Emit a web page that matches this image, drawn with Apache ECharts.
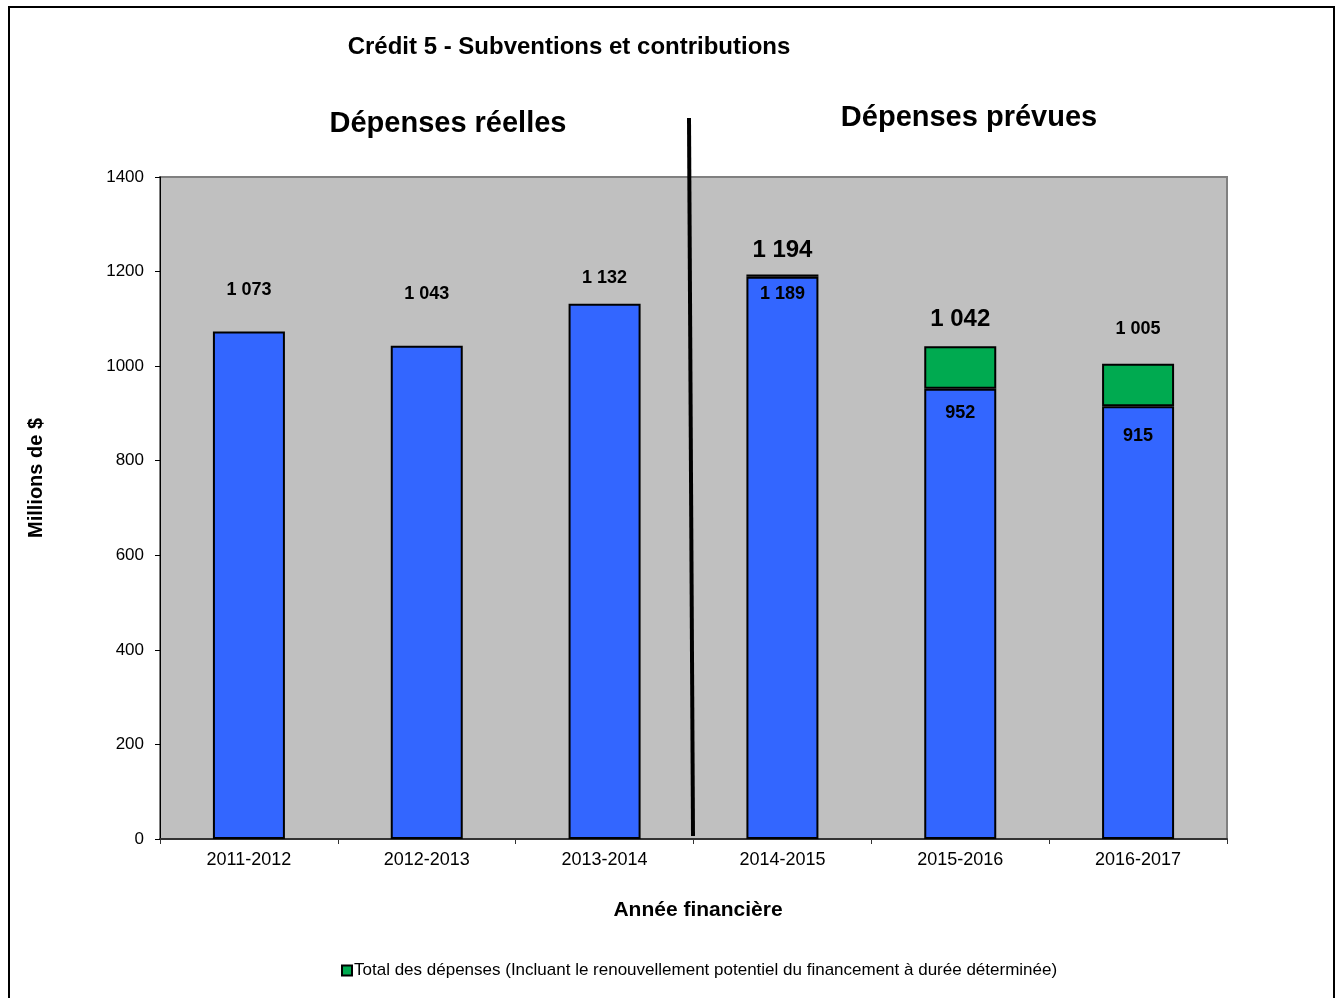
<!DOCTYPE html>
<html>
<head>
<meta charset="utf-8">
<script src="https://cdn.jsdelivr.net/npm/echarts@6/dist/echarts.min.js"></script>
<style>
  html, body { margin: 0; padding: 0; background: #fff; }
  #chart-container { width: 1342px; height: 998px; }
</style>
</head>
<body>
<div id="chart-container"></div>
<script>
// data
const years = ["2011-2012", "2012-2013", "2013-2014", "2014-2015", "2015-2016", "2016-2017"];
const actualSpending = [1073, 1043, 1132, 1189, 952, 915];
const totalSpending = [null, null, null, 1194, 1042, 1005];
const yTicks = [0, 200, 400, 600, 800, 1000, 1200, 1400];

const fmt = (v) => String(v).replace(/\B(?=(\d{3})+(?!\d))/g, " ");

// green part = total minus the blue part
const extra = totalSpending.map((t, i) => (t == null ? null : t - actualSpending[i]));

const FONT = "Liberation Sans, Arial, sans-serif";

// label tweaks (as placed in the original)
const blueLabelGap = [33, 43, 17, 8, 15, 21];
const totalLabelGap = [12, 15, 26];
const totalLabelSize = [24, 24, 18];

const blueData = actualSpending.map((v, i) => ({
  value: v,
  label: {
    show: true,
    position: i < 3 ? "top" : "insideTop",
    distance: blueLabelGap[i],
  },
}));

const greenData = extra.map((v, i) => {
  if (v == null) return { value: null };
  const k = i - 3;
  return {
    value: v,
    label: {
      show: true,
      position: "top",
      distance: totalLabelGap[k],
      fontSize: totalLabelSize[k],
      formatter: () => fmt(totalSpending[i]),
    },
  };
});

const option = {
  animation: false,
  backgroundColor: "#ffffff",
  textStyle: { fontFamily: FONT },
  title: [
    {
      text: "Crédit 5 - Subventions et contributions",
      left: 564, top: 30, textAlign: "center",
      textStyle: { fontSize: 24, fontWeight: "bold", color: "#000", fontFamily: FONT },
    },
    {
      text: "Dépenses réelles",
      left: 443, top: 104, textAlign: "center",
      textStyle: { fontSize: 29, fontWeight: "bold", color: "#000", fontFamily: FONT },
    },
    {
      text: "Dépenses prévues",
      left: 964, top: 98, textAlign: "center",
      textStyle: { fontSize: 29, fontWeight: "bold", color: "#000", fontFamily: FONT },
    },
  ],
  legend: {
    data: ["Total des dépenses (Incluant le renouvellement potentiel du financement à durée déterminée)"],
    left: 336, top: 957,
    itemWidth: 10, itemHeight: 10,
    itemGap: 4,
    icon: "rect",
    textStyle: { fontSize: 17, color: "#000", fontFamily: FONT, padding: [0, 0, 0, -3] },
  },
  grid: {
    left: 160, right: 115, top: 177, bottom: 159,
    show: true,
    backgroundColor: "#c0c0c0",
    borderColor: "#808080",
    borderWidth: 2,
  },
  xAxis: {
    type: "category",
    data: years,
    name: "Année financière",
    nameLocation: "middle",
    nameGap: 61,
    nameTextStyle: { fontSize: 21, fontWeight: "bold", color: "#000", fontFamily: FONT, padding: [0, 0, 0, 9] },
    axisLine: { show: true, lineStyle: { color: "#333", width: 2 } },
    axisTick: { show: true, length: 5, lineStyle: { color: "#333" } },
    axisLabel: { fontSize: 18, color: "#000", margin: 12, fontFamily: FONT },
    splitLine: { show: false },
  },
  yAxis: {
    type: "value",
    min: yTicks[0],
    max: yTicks[yTicks.length - 1],
    interval: yTicks[1] - yTicks[0],
    name: "Millions de $",
    nameLocation: "middle",
    nameGap: 114,
    nameRotate: 90,
    nameTextStyle: { fontSize: 20, fontWeight: "bold", color: "#000", fontFamily: FONT, padding: [0, 0, 0, 60] },
    axisLine: { show: true, lineStyle: { color: "#000", width: 1 } },
    axisTick: { show: true, length: 5, lineStyle: { color: "#000" } },
    axisLabel: { fontSize: 17, color: "#000", margin: 16, fontFamily: FONT, formatter: (v) => String(v) },
    splitLine: { show: false },
  },
  series: [
    {
      name: "Dépenses",
      type: "bar",
      stack: "total",
      barWidth: 72,
      data: blueData,
      itemStyle: { color: "#3366ff", borderColor: "#000", borderWidth: 2 },
      label: { fontSize: 18, fontWeight: "bold", color: "#000", fontFamily: FONT, formatter: (p) => fmt(p.value) },
    },
    {
      name: "Total des dépenses (Incluant le renouvellement potentiel du financement à durée déterminée)",
      type: "bar",
      stack: "total",
      barWidth: 72,
      data: greenData,
      itemStyle: { color: "#00aa50", borderColor: "#000", borderWidth: 2 },
      label: { fontWeight: "bold", color: "#000", fontFamily: FONT },
    },
  ],
  graphic: [
    {
      type: "rect",
      shape: { x: 9, y: 7, width: 1325, height: 1000 },
      style: { fill: "none", stroke: "#000", lineWidth: 2 },
      silent: true,
    },
    {
      type: "line",
      shape: { x1: 689, y1: 118, x2: 693, y2: 836 },
      style: { stroke: "#000", lineWidth: 4 },
      z: 100,
      silent: true,
    },
  ],
};

const myChart = echarts.init(document.getElementById("chart-container"), null, { renderer: "canvas" });
myChart.setOption(option);
window.addEventListener("resize", () => myChart.resize());
</script>
</body>
</html>
